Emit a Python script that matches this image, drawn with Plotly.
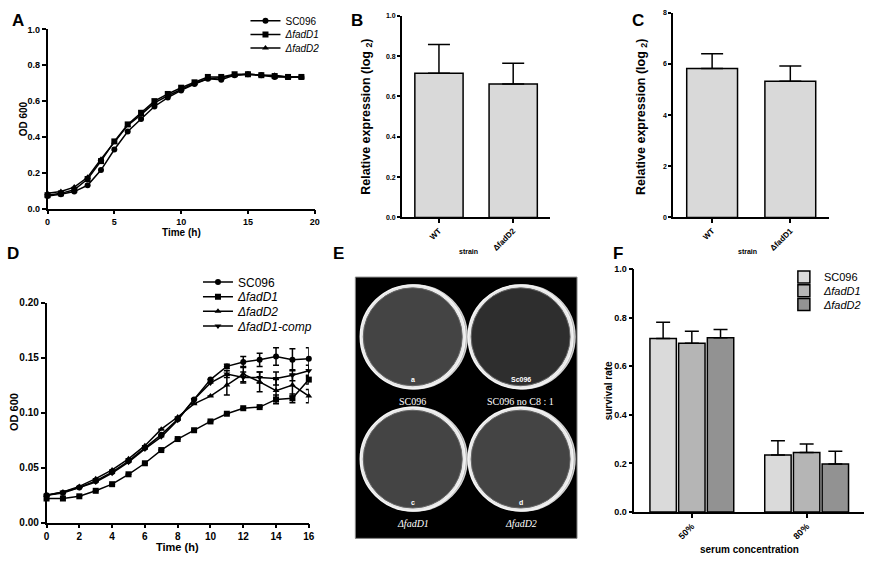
import plotly.graph_objects as go

W, H = 874, 562

# ---- data ----
time_a = list(range(20))
od_a_sc096 = [0.070, 0.080, 0.095, 0.130, 0.215, 0.330, 0.430, 0.500, 0.570, 0.620,
              0.660, 0.695, 0.725, 0.720, 0.745, 0.750, 0.745, 0.735, 0.735, 0.735]
od_a_fadd1 = [0.075, 0.085, 0.105, 0.165, 0.265, 0.375, 0.470, 0.535, 0.600, 0.640,
              0.675, 0.705, 0.735, 0.735, 0.750, 0.750, 0.745, 0.740, 0.735, 0.735]
od_a_fadd2 = [0.085, 0.095, 0.120, 0.175, 0.275, 0.370, 0.465, 0.525, 0.590, 0.630,
              0.665, 0.700, 0.725, 0.730, 0.745, 0.750, 0.745, 0.745, 0.735, 0.735]

strain_b = ["WT", "ΔfadD2"]
expr_b = [0.715, 0.662]
expr_b_err = [0.143, 0.103]

strain_c = ["WT", "ΔfadD1"]
expr_c = [5.82, 5.32]
expr_c_err = [0.58, 0.60]

time_d = list(range(17))
od_d_sc096 = [0.025, 0.027, 0.032, 0.038, 0.046, 0.056, 0.068, 0.080, 0.094, 0.112,
              0.130, 0.142, 0.146, 0.148, 0.151, 0.148, 0.149]
od_d_fadd1 = [0.022, 0.022, 0.024, 0.029, 0.035, 0.044, 0.054, 0.066, 0.076, 0.084,
              0.092, 0.099, 0.104, 0.105, 0.112, 0.113, 0.130]
od_d_fadd2 = [0.025, 0.028, 0.033, 0.040, 0.048, 0.058, 0.070, 0.085, 0.096, 0.108,
              0.115, 0.125, 0.135, 0.128, 0.120, 0.125, 0.115]
od_d_comp = [0.025, 0.028, 0.032, 0.037, 0.045, 0.055, 0.067, 0.078, 0.093, 0.112,
             0.127, 0.135, 0.132, 0.132, 0.131, 0.134, 0.138]
err_d_sc096 = [0, 0, 0, 0, 0, 0, 0, 0, 0, 0, 0, 0.002, 0.005, 0.006, 0.008, 0.010, 0.010]
err_d_fadd1 = [0, 0, 0, 0, 0, 0, 0, 0, 0, 0, 0, 0, 0, 0, 0.004, 0.004, 0.004]
err_d_fadd2 = [0, 0, 0, 0, 0, 0, 0, 0, 0, 0, 0, 0.009, 0.007, 0.009, 0.010, 0.010, 0.006]
err_d_comp = [0, 0, 0, 0, 0, 0, 0, 0, 0, 0, 0, 0.003, 0.005, 0.005, 0.006, 0.005, 0.005]

serum = ["50%", "80%"]
surv_sc096 = [0.715, 0.235]
surv_fadd1 = [0.695, 0.245]
surv_fadd2 = [0.718, 0.198]
surv_sc096_err = [0.067, 0.058]
surv_fadd1_err = [0.050, 0.035]
surv_fadd2_err = [0.034, 0.052]

plate_labels = ["SC096", "SC096 no C8 : 1", "<i>ΔfadD1</i>", "<i>ΔfadD2</i>"]
plate_marks = ["a", "Sc096", "c", "d"]

# ---- helpers ----
FONT = "Liberation Sans, Arial, sans-serif"


def dx(a, b):
    return [a / W, b / W]


def dy(top, bottom):
    return [1 - bottom / H, 1 - top / H]


def px(x):
    return x / W


def py(y):
    return 1 - y / H


def axis(domain, rng, size, **kw):
    d = dict(domain=domain, range=rng, showline=True, linecolor="black",
             linewidth=1.5, ticks="outside", tickcolor="black", tickwidth=1.5,
             ticklen=4, showgrid=False, zeroline=False,
             tickfont=dict(family=FONT, size=size, color="black", weight="bold"))
    d.update(kw)
    return d


fig = go.Figure()

# ---- A ----
for name, vals, sym, lg in [("SC096", od_a_sc096, "circle", "legend"),
                            ("<i>ΔfadD1</i>", od_a_fadd1, "square", "legend2"),
                            ("<i>ΔfadD2</i>", od_a_fadd2, "triangle-up", "legend3")]:
    fig.add_trace(go.Scatter(x=time_a, y=vals, name=name, mode="lines+markers",
                             line=dict(color="black", width=1.5),
                             marker=dict(symbol=sym, size=6, color="black"),
                             xaxis="x", yaxis="y", legend=lg, cliponaxis=False))

# ---- B ----
fig.add_trace(go.Bar(x=strain_b, y=expr_b, width=0.65, showlegend=False,
                     marker=dict(color="#d9d9d9", line=dict(color="black", width=1.5)),
                     error_y=dict(type="data", symmetric=False, array=expr_b_err,
                                  arrayminus=[0, 0], color="black", thickness=1.5, width=11),
                     xaxis="x2", yaxis="y2"))

# ---- C ----
fig.add_trace(go.Bar(x=strain_c, y=expr_c, width=0.65, showlegend=False,
                     marker=dict(color="#d9d9d9", line=dict(color="black", width=1.5)),
                     error_y=dict(type="data", symmetric=False, array=expr_c_err,
                                  arrayminus=[0, 0], color="black", thickness=1.5, width=11),
                     xaxis="x3", yaxis="y3"))

# ---- D ----
for name, vals, err, sym, lg in [("SC096", od_d_sc096, err_d_sc096, "circle", "legend4"),
                                 ("<i>ΔfadD1</i>", od_d_fadd1, err_d_fadd1, "square", "legend5"),
                                 ("<i>ΔfadD2</i>", od_d_fadd2, err_d_fadd2, "triangle-up", "legend6"),
                                 ("<i>ΔfadD1-comp</i>", od_d_comp, err_d_comp, "triangle-down", "legend7")]:
    fig.add_trace(go.Scatter(x=time_d, y=vals, name=name, mode="lines+markers",
                             line=dict(color="black", width=1.5),
                             marker=dict(symbol=sym, size=6, color="black"),
                             error_y=dict(type="data", array=err, color="black",
                                          thickness=1.5, width=3),
                             xaxis="x4", yaxis="y4", legend=lg, cliponaxis=False))

# ---- F ----
for name, vals, err, col, lg in [("SC096", surv_sc096, surv_sc096_err, "#dadada", "legend8"),
                                 ("<i>ΔfadD1</i>", surv_fadd1, surv_fadd1_err, "#b5b5b5", "legend9"),
                                 ("<i>ΔfadD2</i>", surv_fadd2, surv_fadd2_err, "#929292", "legend10")]:
    fig.add_trace(go.Bar(x=serum, y=vals, name=name,
                         marker=dict(color=col, line=dict(color="black", width=1.5)),
                         error_y=dict(type="data", symmetric=False, array=err,
                                      arrayminus=[0, 0], color="black", thickness=1.5, width=7),
                         xaxis="x6", yaxis="y6", legend=lg))

layout = dict(
    width=W, height=H, margin=dict(l=0, r=0, t=0, b=0),
    paper_bgcolor="white", plot_bgcolor="white",
    barmode="group", bargap=0.25, bargroupgap=0.08,
    font=dict(family=FONT, color="black"),
    xaxis=axis(dx(45, 315), [0, 20], 9, tickvals=[0, 5, 10, 15, 20]),
    yaxis=axis(dy(24, 207), [0, 1.0], 9, tickvals=[0, 0.2, 0.4, 0.6, 0.8, 1.0],
               tickformat=".1f", anchor="x"),
    xaxis2=axis(dx(403, 553), [-0.5, 1.5], 8, anchor="y2", tickangle=-45, type="category"),
    yaxis2=axis(dy(10, 216), [0, 1.0], 7, anchor="x2",
                tickvals=[0, 0.2, 0.4, 0.6, 0.8, 1.0], tickformat=".1f", ticklen=3),
    xaxis3=axis(dx(677, 835), [-0.5, 1.5], 8, anchor="y3", tickangle=-45, type="category"),
    yaxis3=axis(dy(7, 216), [0, 8], 7, anchor="x3", tickvals=[0, 2, 4, 6, 8], ticklen=3),
    xaxis4=axis(dx(44, 309), [0, 16], 10, anchor="y4", tickvals=list(range(0, 17, 2))),
    yaxis4=axis(dy(303, 528), [0, 0.2], 10, anchor="x4",
                tickvals=[0, 0.05, 0.10, 0.15, 0.20], tickformat=".2f"),
    xaxis5=dict(domain=dx(356, 580), range=[0, 224], visible=False, anchor="y5"),
    yaxis5=dict(domain=dy(277, 544), range=[267, 0], visible=False, anchor="x5"),
    xaxis6=axis(dx(638, 870), [-0.5, 1.5], 9, anchor="y6", tickangle=-45, type="category"),
    yaxis6=axis(dy(269, 517), [0, 1.0], 9, anchor="x6",
                tickvals=[0, 0.2, 0.4, 0.6, 0.8, 1.0], tickformat=".1f"),
)


def leg(x, y, size):
    return dict(x=px(x), y=py(y), xanchor="left", yanchor="middle",
                bgcolor="rgba(0,0,0,0)", borderwidth=0, itemwidth=30,
                font=dict(family=FONT, size=size, color="black"), tracegroupgap=0)


layout["legend"] = leg(245, 15, 10)
layout["legend2"] = leg(245, 29, 10)
layout["legend3"] = leg(245, 43, 10)
layout["legend4"] = leg(197, 282, 12)
layout["legend5"] = leg(197, 297, 12)
layout["legend6"] = leg(197, 312, 12)
layout["legend7"] = leg(197, 327, 12)
layout["legend8"] = leg(789, 277, 11)
layout["legend9"] = leg(789, 291, 11)
layout["legend10"] = leg(789, 305, 11)

fig.update_layout(**layout)

# ---- panel E: plate photo ----
shapes = [dict(type="rect", xref="x5 domain", yref="y5 domain", x0=0, x1=1, y0=0, y1=1,
               fillcolor="black", line=dict(color="#888888", width=1), layer="below")]
plate_cx = [58, 167]
plate_cy = [61, 186]
r = 53
annotations = []
k = 0
for cy in plate_cy:
    for cx in plate_cx:
        inner = "#2e2e2e" if k == 1 else "#444444"
        shapes.append(dict(type="circle", xref="x5", yref="y5", x0=cx - r + 2, x1=cx + r + 2,
                           y0=cy - r, y1=cy + r, fillcolor="#9a9a9a",
                           line=dict(color="#cfcfcf", width=1.5)))
        shapes.append(dict(type="circle", xref="x5", yref="y5", x0=cx - r, x1=cx + r,
                           y0=cy - r, y1=cy + r, fillcolor="#e8e8e8",
                           line=dict(color="#f4f4f4", width=1.5)))
        shapes.append(dict(type="circle", xref="x5", yref="y5", x0=cx - r + 3, x1=cx + r - 3,
                           y0=cy - r + 3, y1=cy + r - 3, fillcolor=inner,
                           line=dict(color="#666666", width=1)))
        annotations.append(dict(x=cx, y=cy + 66, xref="x5", yref="y5", text=plate_labels[k],
                                showarrow=False, font=dict(family="Liberation Serif, serif",
                                                           size=10, color="white")))
        annotations.append(dict(x=cx, y=cy + 44, xref="x5", yref="y5", text=plate_marks[k],
                                showarrow=False, font=dict(family=FONT, size=7, color="white",
                                                           weight="bold")))
        k += 1


def note(x, y, text, size, angle=0, bold=True):
    annotations.append(dict(x=px(x), y=py(y), xref="paper", yref="paper", text=text,
                            showarrow=False, textangle=angle, xanchor="center", yanchor="middle",
                            font=dict(family=FONT, size=size, color="black",
                                      weight="bold" if bold else "normal")))


# panel letters
for letter, x, y in [("A", 15, 15), ("B", 358, 15), ("C", 642, 15),
                     ("D", 10, 253), ("E", 339, 253), ("F", 621, 253)]:
    note(x, y, letter, 17)

# axis titles
note(21, 115, "OD 600", 10, -90)
note(180, 231, "Time (h)", 10)
note(367, 113, "Relative expression (log <sub>2</sub>)", 12.5, -90)
note(470, 251, "strain", 7)
note(645, 113, "Relative expression (log <sub>2</sub>)", 12.5, -90)
note(752, 251, "strain", 7)
note(11, 415, "OD 600", 11, -90)
note(176, 553, "Time (h)", 11)
note(612, 393, "survival rate", 10, -90)
note(754, 555, "serum concentration", 10)

fig.update_layout(shapes=shapes, annotations=annotations)

fig.write_html("out.html", config={"displayModeBar": False},
               post_script="document.body.style.margin='0';")
